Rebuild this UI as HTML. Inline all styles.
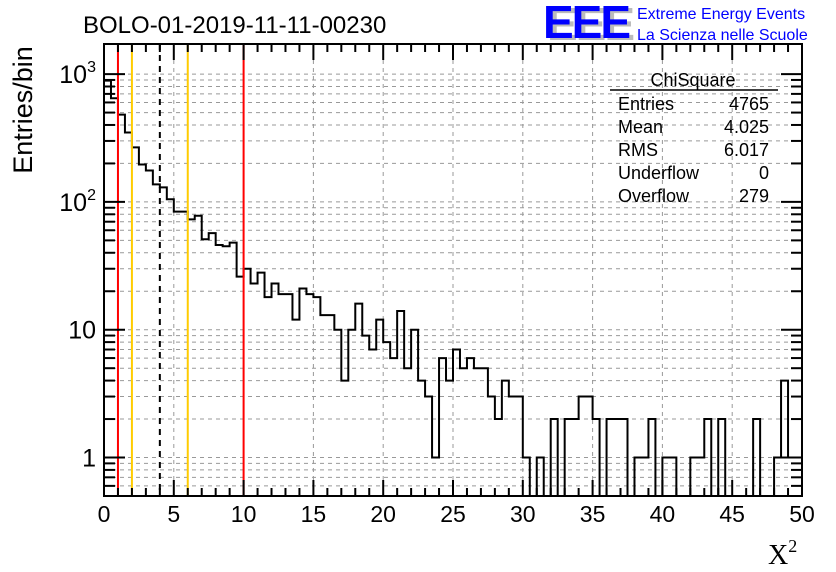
<!DOCTYPE html>
<html><head><meta charset="utf-8"><style>
body{margin:0;background:#fff;}
svg{display:block;font-family:"Liberation Sans",Arial,sans-serif;}
</style></head><body>
<svg id="c" width="836" height="572" viewBox="0 0 836 572">
<rect width="836" height="572" fill="#fff"/>
<text x="83" y="33" font-size="24" fill="#000">BOLO-01-2019-11-11-00230</text>
<g>
<text x="547" y="40" font-size="46" font-weight="bold" fill="#bbb" letter-spacing="-2">EEE</text>
<text x="543" y="38" font-size="46" font-weight="bold" fill="#0000ff" letter-spacing="-2">EEE</text>
<text x="637" y="19" font-size="16" fill="#0000ff">Extreme Energy Events</text>
<text x="637" y="40" font-size="16" fill="#0000ff">La Scienza nelle Scuole</text>
</g>
<g id="grid"></g>
<g id="marks"></g>
<g id="axes"></g>
<g font-size="18" fill="#000">
<text x="693" y="86" text-anchor="middle">ChiSquare</text>
<line x1="610" y1="90" x2="778" y2="90" stroke="#000" stroke-width="1.5"/>
<text x="618" y="110">Entries</text><text x="769" y="110" text-anchor="end">4765</text>
<text x="618" y="133">Mean</text><text x="769" y="133" text-anchor="end">4.025</text>
<text x="618" y="156">RMS</text><text x="769" y="156" text-anchor="end">6.017</text>
<text x="618" y="179">Underflow</text><text x="769" y="179" text-anchor="end">0</text>
<text x="618" y="202">Overflow</text><text x="769" y="202" text-anchor="end">279</text>
</g>
<text x="32" y="110" font-size="27" text-anchor="middle" transform="rotate(-90 32 110)">Entries/bin</text>
<text x="768" y="564" font-size="28" font-family="'Liberation Serif',serif">X<tspan font-size="18" dy="-12">2</tspan></text>
</svg>
<script>
const binCounts = [890,647,482,349,267,196,176,137,130,105,84,84,73,78,51,57,46,45,48,26,30,23,28,18,23,19,19,12,21,19,18,13,13,10,4,10,
16,9,7,12,8,6,14,5,10,4,3,1,6,4,7,5,6,5,5,3,2,4,3,3,1,0,1,0,2,0,
2,2,3,3,2,0,2,2,2,0,1,1,2,0,1,1,0,0,1,1,2,0,2,0,0,0,0,2,0,0,1,4,1,1];
const xMin = 0, xMax = 50;
const xTickLabels = ["0","5","10","15","20","25","30","35","40","45","50"];
const yMajorValues = [1,10,100,1000];
const yTickBase = ["1","10","10","10"];
const yTickExp = ["","","2","3"];
const cutLines = [{x:1,c:"#ff0000",d:""},{x:2,c:"#ffcc00",d:""},{x:4,c:"#000",d:"6,5"},{x:6,c:"#ffcc00",d:""},{x:10,c:"#ff0000",d:""}];

const L=104,R=802,T=44,B=496;
const xs=v=>L+(v-xMin)/(xMax-xMin)*(R-L);
const ymin=0.5, ymax=1720;
const ys=v=>{if(v<=ymin)return B;const lo=Math.log10(ymin),hi=Math.log10(ymax);return B-(Math.log10(v)-lo)/(hi-lo)*(B-T);};
const NS="http://www.w3.org/2000/svg";
function mk(tag,attrs,parent){const e=document.createElementNS(NS,tag);for(const k in attrs)e.setAttribute(k,attrs[k]);parent.appendChild(e);return e;}
const grid=document.getElementById('grid'),marks=document.getElementById('marks'),axes=document.getElementById('axes');

for(let d=-1;d<4;d++){for(let m=1;m<10;m++){const val=m*Math.pow(10,d);if(val<ymin||val>ymax)continue;const y=ys(val);if(y>=B-0.5)continue;
const g=mk('line',{x1:L,x2:R,y1:y,y2:y,stroke:'#999','stroke-dasharray':'4,4','stroke-width':1},grid);

}}
xTickLabels.forEach(t=>{const v=+t;if(v===xMin||v===xMax)return;const x=xs(v);const g=mk('line',{x1:x,x2:x,y1:T,y2:B,stroke:'#999','stroke-dasharray':'4,4'},grid);

});

const n=binCounts.length,bw=(xMax-xMin)/n;
let d='M'+xs(0)+','+B;
binCounts.forEach((c,i)=>{const y=ys(c);d+=' L'+xs(i*bw)+','+y+' L'+xs((i+1)*bw)+','+y;});
d+=' L'+xs(xMax)+','+B;
const h=mk('path',{d:d,fill:'none',stroke:'#000','stroke-width':2},marks);



cutLines.forEach(c=>{const x=xs(c.x);const a={x1:x,x2:x,y1:T,y2:B,stroke:c.c,'stroke-width':2};if(c.d)a['stroke-dasharray']=c.d;const e=mk('line',a,marks);

});

const f=mk('rect',{x:L,y:T,width:R-L,height:B-T,fill:'none',stroke:'#000','stroke-width':2},axes);


for(let v=xMin;v<=xMax;v++){const x=xs(v);const len=(v%5===0)?16:8;
mk('line',{x1:x,x2:x,y1:B,y2:B-len,stroke:'#000','stroke-width':2},axes);
mk('line',{x1:x,x2:x,y1:T,y2:T+len,stroke:'#000','stroke-width':2},axes);}
xTickLabels.forEach(t=>{const e=mk('text',{x:xs(+t),y:522,'font-size':23,'text-anchor':'middle'},axes);e.textContent=t;

});
for(let d2=-1;d2<4;d2++){for(let m=1;m<10;m++){const val=m*Math.pow(10,d2);if(val<ymin||val>ymax)continue;const y=ys(val);const len=m===1?21:11;
mk('line',{x1:L,x2:L+len,y1:y,y2:y,stroke:'#000','stroke-width':2},axes);
mk('line',{x1:R,x2:R-len,y1:y,y2:y,stroke:'#000','stroke-width':2},axes);}}
yMajorValues.forEach((v,i)=>{const e=mk('text',{x:96,y:ys(v)+9,'font-size':25,'text-anchor':'end'},axes);
e.textContent=yTickBase[i];
if(yTickExp[i]){const s=mk('tspan',{'font-size':16,dy:-11},e);s.textContent=yTickExp[i];}

});
</script>
</body></html>
